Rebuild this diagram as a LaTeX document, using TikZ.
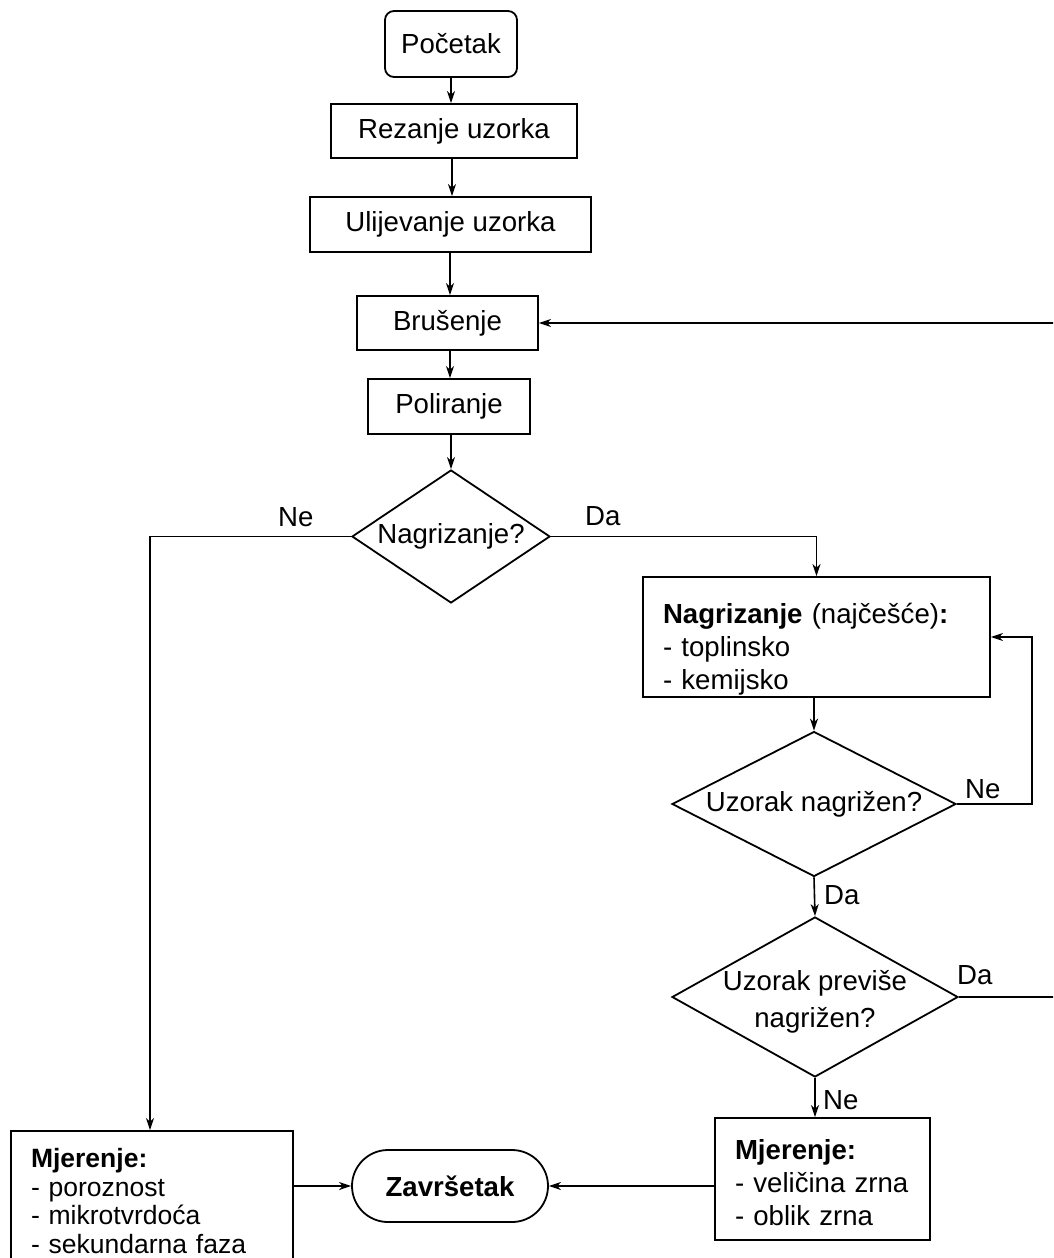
\documentclass[tikz,border=0pt]{standalone}
\usepackage{fontspec}
\setmainfont{Liberation Sans}
\usetikzlibrary{arrows.meta,shapes.geometric}
\begin{document}
\begin{tikzpicture}[x=1pt,y=-1pt,
  every node/.style={font=\fontsize{27.6}{33}\selectfont},
  proc/.style={draw,line width=1.8pt,rectangle,inner sep=0pt,align=center},
  listbox/.style={draw,line width=1.8pt,rectangle,inner xsep=20pt,inner ysep=0pt,align=left},
  decision/.style={draw,line width=1.8pt,diamond,inner sep=0pt,align=center},
  conn/.style={line width=1.6pt},
  arr/.style={conn,-{Stealth[length=12pt,width=8pt,inset=3.5pt]}},
  lbl/.style={anchor=base west,inner sep=0pt}]
\useasboundingbox (0,0) rectangle (1053,1258);
\clip (0,0) rectangle (1053,1258);

\node[proc,rounded corners=9pt,minimum width=132pt,minimum height=66pt] (start) at (451,44) {Početak};
\node[proc,minimum width=246pt,minimum height=54pt] (rez) at (454,131) {Rezanje uzorka};
\node[proc,minimum width=281pt,minimum height=55pt] (ulij) at (450.5,224.5) {Ulijevanje uzorka};
\node[proc,minimum width=181pt,minimum height=54pt] (brus) at (447.5,323) {Brušenje};
\node[proc,minimum width=162pt,minimum height=55pt] (pol) at (449,406.5) {Poliranje};
\node[decision,shape aspect=1.49,minimum width=198pt,minimum height=133pt] (d1) at (451,536.5) {Nagrizanje?};
\node[listbox,text width=307pt,minimum height=120pt] (nag) at (816.5,637) {\rule{0pt}{44pt}\textbf{Nagrizanje} (najčešće)\textbf{:}\\- toplinsko\\- kemijsko};
\node[decision,shape aspect=1.96,minimum width=284pt,minimum height=145pt] (d2) at (814,804) {Uzorak nagrižen?};
\node[decision,shape aspect=1.79,inner sep=-10pt,minimum width=286pt,minimum height=160pt] (d3) at (815,997) {\rule{0pt}{30pt}Uzorak previše\\[4pt]nagrižen?};
\node[listbox,text width=175pt,minimum height=122pt] (mR) at (822.5,1179) {\rule{0pt}{28pt}\textbf{Mjerenje:}\\- veličina zrna\\- oblik zrna};
\node[proc,rounded corners=36pt,minimum width=196pt,minimum height=72pt] (zav) at (450,1186) {\textbf{Završetak}};
\node[listbox,text width=242pt,minimum height=140pt,font=\fontsize{26.5}{28.5}\selectfont] (mL) at (152,1201) {\textbf{Mjerenje:}\\- poroznost\\- mikrotvrdoća\\- sekundarna faza};

\node[lbl] (lNe1) at (278,526) {Ne};
\node[lbl] (lDa1) at (585,525) {Da};
\node[lbl] (lNe2) at (965,798) {Ne};
\node[lbl] (lDa2) at (824,904) {Da};
\node[lbl] (lDa3) at (957,984) {Da};
\node[lbl] (lNe3) at (823,1109) {Ne};

\draw[arr] (start.south) -- (start.south |- rez.north);
\draw[arr] (rez.south -| 452,0) -- (ulij.north -| 452,0);
\draw[arr] (ulij.south -| 450,0) -- (brus.north -| 450,0);
\draw[arr] (brus.south -| 450,0) -- (pol.north -| 450,0);
\draw[arr] (pol.south -| d1.north) -- (d1.north);
\draw[arr] (d1.east) -| (nag.north);
\draw[arr] (d1.west) -| (mL.north -| 150,0);
\draw[arr] (nag.south -| d2.north) -- (d2.north);
\draw[arr] (d2.east) -- ++(75,0) |- (nag.east);
\draw[arr] (d2.south) -- (d3.north);
\draw[arr] (d3.east) -- ++(120,0) |- (brus.east);
\draw[arr] (d3.south) -- (d3.south |- mR.north);
\draw[arr] (mR.west |- zav.east) -- (zav.east);
\draw[arr] (mL.east |- zav.west) -- (zav.west);
\end{tikzpicture}
\end{document}
